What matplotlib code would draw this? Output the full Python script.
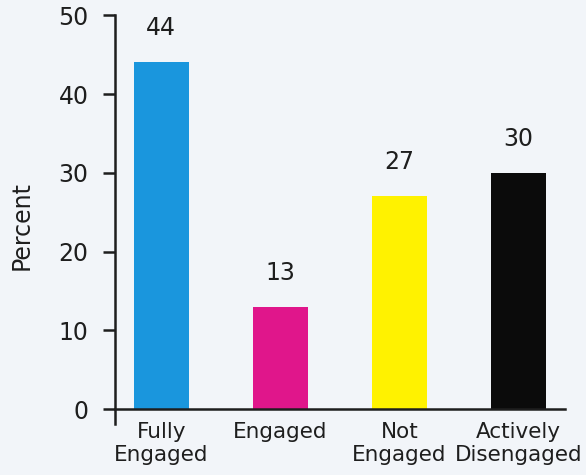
import matplotlib
matplotlib.use("Agg")
import matplotlib.pyplot as plt

# engagement survey results
categories = ["Fully\nEngaged", "Engaged", "Not\nEngaged", "Actively\nDisengaged"]
percents = [44, 13, 27, 30]
bar_colors = ["#1a96dd", "#e0168b", "#fff200", "#0b0b0b"]
yticks = [0, 10, 20, 30, 40, 50]

bg = "#f2f5f9"
ink = "#1e1e1e"

plt.rcParams["font.family"] = ["DejaVu Sans"]

fig = plt.figure(figsize=(5.86, 4.75), dpi=100, facecolor=bg)
ax = fig.add_axes([0.196, 0.107, 0.768, 0.861], facecolor=bg)

x = range(len(categories))
ax.bar(x, percents, width=0.46, color=bar_colors, zorder=2)

for xi, v in zip(x, percents):
    ax.annotate(f"{v}", (xi, v), xytext=(0, 16), textcoords="offset points",
                ha="center", va="bottom", fontsize=17, color=ink)

ax.set_xlim(-0.39, 3.39)
ax.set_ylim(-1.9, 50)
ax.set_yticks(yticks)
ax.set_xticks(list(x))
ax.set_xticklabels(categories, linespacing=0.95)

for side in ("top", "right"):
    ax.spines[side].set_visible(False)
ax.spines["bottom"].set_position(("data", 0))
ax.spines["left"].set_bounds(-1.9, 50)
for side in ("left", "bottom"):
    ax.spines[side].set_linewidth(1.8)
    ax.spines[side].set_color(ink)

ax.tick_params(axis="y", length=9, width=1.8, color=ink, labelsize=17,
               labelcolor=ink, pad=10)
ax.tick_params(axis="x", length=0, pad=9, labelsize=15.5, labelcolor=ink)

ax.set_ylabel("Percent", fontsize=17, color=ink)
ax.yaxis.set_label_coords(-0.18, 0.487)

fig.savefig("out.png", dpi=100, facecolor=bg)
